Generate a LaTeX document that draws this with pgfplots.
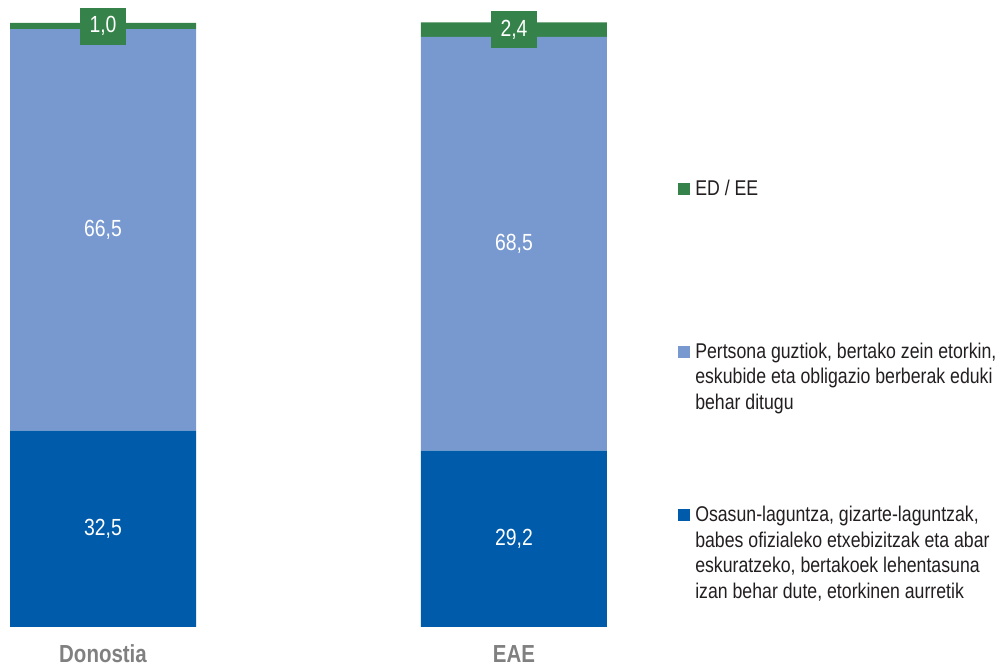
\documentclass[border=0pt]{standalone}
\usepackage{fontspec}
\setmainfont[FakeStretch=0.83]{Liberation Sans}
\usepackage{pgfplots}
\pgfplotsset{compat=1.18}
\definecolor{dblue}{RGB}{0,91,170}
\definecolor{lblue}{RGB}{120,153,208}
\definecolor{ggreen}{RGB}{53,131,74}
\definecolor{labgray}{RGB}{128,128,128}
\definecolor{legtext}{RGB}{35,31,32}
\pgfplotsset{
  common/.style={
    at={(7.5pt,30pt)}, anchor=south west,
    scale only axis, width=447.75pt, height=453pt,
    xmin=-0.2263, xmax=1.2263, ymin=0, ymax=100,
    clip=false, axis line style={draw=none},
    ytick=\empty, major tick length=0pt,
  }
}
\begin{document}
\begin{tikzpicture}
\path[use as bounding box] (0,0) rectangle (752.25pt,500.25pt);
\begin{axis}[common,
  ybar stacked, bar width=139.5pt,
  xtick={0,1}, xticklabels={Donostia,EAE},
  xticklabel style={anchor=base, yshift=-27pt,
    font=\fontsize{18.5}{20}\selectfont\bfseries, text=labgray},
]
\addplot[fill=dblue, draw=none] coordinates {(0,32.5) (1,29.2)};
\addplot[fill=lblue, draw=none] coordinates {(0,66.5) (1,68.5)};
\addplot[fill=ggreen, draw=none] coordinates {(0,1.0) (1,2.4)};
\end{axis}
% value labels, placed at the middle of each segment
\begin{axis}[common, xtick=\empty,
  nodes near coords={\pgfmathprintnumber[fixed,fixed zerofill,precision=1,use comma,assume math mode=true]{\pgfplotspointmeta}},
  point meta=explicit,
]
\addplot[draw=none, mark=none,
  every node near coord/.style={text=white, font=\fontsize{17.5}{20}\selectfont, anchor=center}]
  coordinates {(0,16.25) [32.5] (1,14.6) [29.2] (0,65.75) [66.5] (1,63.45) [68.5]};
\addplot[draw=none, mark=none,
  every node near coord/.style={text=white, font=\fontsize{17.5}{20}\selectfont, anchor=center,
    fill=ggreen, minimum width=34.5pt, minimum height=27.75pt, inner sep=0pt}]
  coordinates {(0,99.5) [1.0] (1,98.9) [2.4]};
\end{axis}
% legend
\fill[ggreen] (508.5pt,354pt) rectangle ++(9pt,9pt);
\fill[lblue] (508.5pt,231.4pt) rectangle ++(9pt,9pt);
\fill[dblue] (508.5pt,109.5pt) rectangle ++(9pt,9pt);
\begin{scope}[every node/.style={anchor=base west, inner sep=0pt, text=legtext,
    font=\fontsize{16}{19.1}\selectfont}]
\node at (521.25pt,353.25pt) {\begin{tabular}[t]{@{}l@{}}ED / EE\end{tabular}};
\node at (521.25pt,231.5pt) {\begin{tabular}[t]{@{}l@{}}Pertsona guztiok, bertako zein etorkin,\\eskubide eta obligazio berberak eduki\\behar ditugu\end{tabular}};
\node at (521.25pt,109pt) {\begin{tabular}[t]{@{}l@{}}Osasun-laguntza, gizarte-laguntzak,\\babes ofizialeko etxebizitzak eta abar\\eskuratzeko, bertakoek lehentasuna\\izan behar dute, etorkinen aurretik\end{tabular}};
\end{scope}
\end{tikzpicture}
\end{document}
